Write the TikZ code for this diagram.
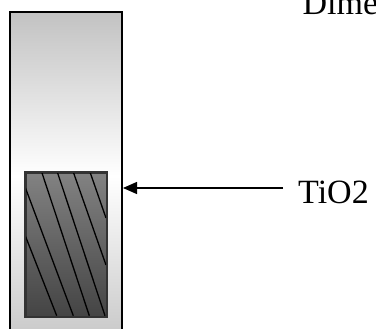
\documentclass[tikz,border=0pt]{standalone}
\usepackage{fontspec}
\setmainfont{Liberation Serif}
\usetikzlibrary{arrows.meta}
\definecolor{tubegray}{HTML}{C2C2C2}
\definecolor{tubegraylow}{HTML}{C8C8C8}
\definecolor{filmtop}{HTML}{828282}
\definecolor{filmbottom}{HTML}{444444}
\definecolor{filmedge}{HTML}{333333}
\tikzset{
  tubewall/.style={line width=2pt, line join=miter},
  film/.style={draw=filmedge, line width=1.6pt, top color=filmtop, bottom color=filmbottom},
  hatchline/.style={line width=1.3pt, black},
  pointer/.style={line width=1.3pt, -{Triangle[length=14pt,width=12pt]}},
  caption/.style={font=\fontsize{34}{40}\selectfont, inner sep=0pt}
}
\begin{document}
\begin{tikzpicture}[x=1pt,y=-1pt]
  \useasboundingbox (0,0) rectangle (376,329);
  % glass tube body, open at the bottom, lightest around its middle
  \shade[top color=tubegray, bottom color=tubegraylow, middle color=white]
    (10,12) rectangle (122,340);
  \draw[tubewall] (10.5,340) -- (10.5,12) -- (122,12) -- (122,340);
  % coated film with diagonal hatching
  \node[film, rectangle, minimum width=81pt, minimum height=144pt, anchor=north west, inner sep=0pt] (film) at (25,172) {};
  \begin{scope}
    \clip (25,172) rectangle (106,316);
    \draw[hatchline] (25,186.7) -- (73.3,315.7);
    \draw[hatchline] (25,235) -- (56.7,315.7);
    \draw[hatchline] (41.7,172) -- (89.3,315.7);
    \draw[hatchline] (57.3,172) -- (105,315.7);
    \draw[hatchline] (73.3,172) -- (106,265);
    \draw[hatchline] (90,172) -- (106,218);
  \end{scope}
  \draw[draw=filmedge, line width=1.6pt] (film.north west) rectangle (film.south east);
  % labels
  \node[caption, anchor=base west] (tio2) at (298,204) {TiO2};
  \node[caption, anchor=base west] (dim) at (302.5,15) {Dime};
  \coordinate (tail) at (283,188);
  \coordinate (tip) at (123,188);
  \draw[pointer] (tail) -- (tip);
\end{tikzpicture}
\end{document}
